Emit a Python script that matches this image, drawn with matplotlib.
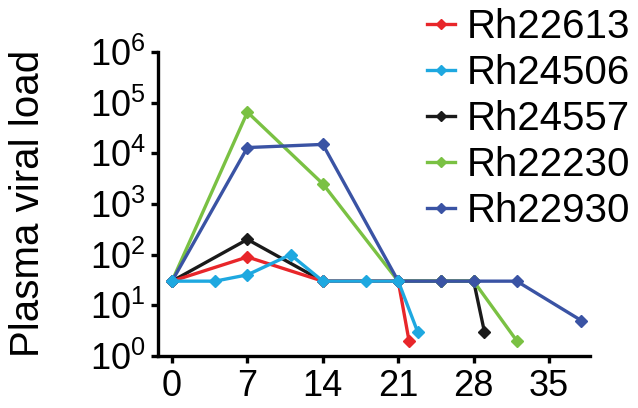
import numpy as np
import matplotlib
matplotlib.use("Agg")
import matplotlib.pyplot as plt
from matplotlib import ticker

plt.rcParams['font.family'] = ['Liberation Sans', 'DejaVu Sans']
plt.rcParams['mathtext.fontset'] = 'custom'
plt.rcParams['mathtext.rm'] = 'Liberation Sans'
plt.rcParams['mathtext.it'] = 'Liberation Sans'

# data (days post infection, plasma viral load)
names = ['Rh22613', 'Rh24506', 'Rh24557', 'Rh22230', 'Rh22930']
colours = ['#e8262a', '#1ea8e0', '#1a1a1a', '#7ac143', '#3a53a4']

days_22613 = [0, 7, 14, 21, 22]
load_22613 = [30, 90, 30, 30, 2]

days_24506 = [0, 4, 7, 11, 14, 18, 21, 22.8]
load_24506 = [30, 30, 40, 100, 30, 30, 30, 3]

days_24557 = [0, 7, 14, 21, 25, 28, 29]
load_24557 = [30, 200, 30, 30, 30, 30, 3]

days_22230 = [0, 7, 14, 21, 25, 28, 32]
load_22230 = [30, 65000, 2500, 30, 30, 30, 2]

days_22930 = [0, 7, 14, 21, 25, 28, 32, 38]
load_22930 = [30, 13000, 15000, 30, 30, 30, 30, 5]

x_ticks = [0, 7, 14, 21, 28, 35]
y_ticks = [1e0, 1e1, 1e2, 1e3, 1e4, 1e5, 1e6]

series = [(days_22613, load_22613), (days_24506, load_24506),
          (days_24557, load_24557), (days_22230, load_22230),
          (days_22930, load_22930)]

fig = plt.figure(figsize=(6.38, 4.08), dpi=100)
ax = fig.add_axes([158 / 638, 52 / 408, 432 / 638, 304 / 408])

# drawing order: black and green underneath, cyan on top
handles = {}
for i in [2, 3, 0, 4, 1]:
    d, v = series[i]
    h, = ax.plot(d, v, color=colours[i], lw=2.4, marker='D', ms=6.5,
                 mec=colours[i], label=names[i], clip_on=False)
    handles[i] = h

ax.set_yscale('log')
ax.set_ylim(1, 1e6)
ax.set_xlim(-1.3, 38.8)
ax.set_xticks(x_ticks)
ax.set_yticks(y_ticks)
ax.yaxis.set_minor_locator(ticker.NullLocator())

for s in ['top', 'right']:
    ax.spines[s].set_visible(False)
for s in ['left', 'bottom']:
    ax.spines[s].set_linewidth(2.4)

ax.tick_params(axis='both', which='major', direction='out', length=5,
               width=2.4, labelsize=26, pad=4)

fig.text(28 / 638, 1 - 203 / 408, 'Plasma viral load', rotation=90,
         ha='center', va='center', fontsize=29)

fig.legend([handles[i] for i in range(5)], names, loc='upper right',
           bbox_to_anchor=(1.045, 1.07), frameon=False, fontsize=29,
           handlelength=0.7, handletextpad=0.3, labelspacing=0.2,
           markerscale=0.75)

plt.savefig('out.png', dpi=100)
